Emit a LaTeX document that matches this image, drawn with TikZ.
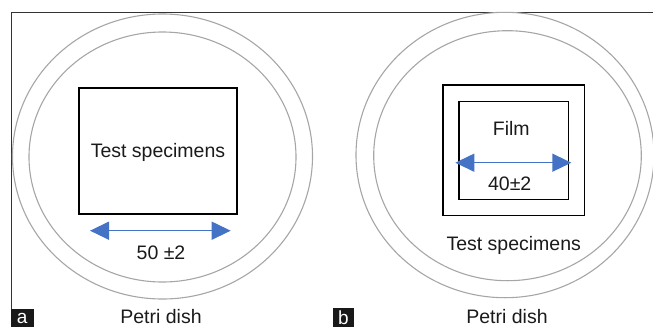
\documentclass[tikz,border=0pt]{standalone}
\usepackage{fontspec}
\setmainfont{Liberation Sans}
\usetikzlibrary{arrows.meta}
\definecolor{arrblue}{HTML}{4472C4}
\definecolor{dishgray}{HTML}{A6A6A6}
\definecolor{txtgray}{HTML}{1A1A1A}
\begin{document}
\begin{tikzpicture}[x=1pt,y=-1pt,
  lbl/.style={font=\fontsize{19.5}{22}\selectfont, text=txtgray, inner sep=0pt, anchor=base},
  dish/.style={draw=dishgray, line width=1.1pt},
  dimarrow/.style={draw=arrblue, line width=1.4pt, {Triangle[length=19pt,width=18pt]}-{Triangle[length=19pt,width=18pt]}, fill=arrblue},
  tagbox/.style={fill=black!90},
  tagtext/.style={text=white, font=\fontsize{19}{20}\selectfont, inner sep=0pt, anchor=center}
]
\useasboundingbox (0,0) rectangle (653,327);
\begin{scope}
\clip (0,0) rectangle (653,327);
% frame
\draw[draw=black!80, line width=1pt] (11,309) -- (11,12.3) -- (660,12.3);
% panel a
\draw[dish] (162.5,156.5) ellipse [x radius=150, y radius=142.5];
\draw[dish] (162.5,157) ellipse [x radius=133.5, y radius=125];
\node[draw, line width=2pt, minimum width=158pt, minimum height=126pt, inner sep=0pt] (sqa) at (157.7,150.7) {};
\node[lbl] (tsa) at (158,157.3) {Test specimens};
\coordinate (aL) at (90,230.7);
\coordinate (aR) at (230.7,230.7);
\draw[dimarrow] (aL) -- (aR);
\node[lbl] (dima) at (161,259.3) {50 ±2};
\node[lbl] (pda) at (161,323.3) {Petri dish};
\fill[tagbox] (11,308.5) rectangle (34,327);
\node[tagtext] (taga) at (22.2,318.5) {a};
% panel b
\draw[dish] (505,155) ellipse [x radius=149, y radius=142.7];
\draw[dish] (507.5,155.7) ellipse [x radius=133.8, y radius=125];
\node[draw, line width=1.3pt, minimum width=141.7pt, minimum height=130.7pt, inner sep=0pt] (sqb) at (513.8,150.3) {};
\node[draw, line width=1.3pt, minimum width=109.7pt, minimum height=98pt, inner sep=0pt] (film) at (513.8,150.3) {};
\node[lbl] (filmt) at (511.3,135.7) {Film};
\coordinate (bL) at (455.3,162.7);
\coordinate (bR) at (571.3,162.7);
\draw[dimarrow] (bL) -- (bR);
\node[lbl] (dimb) at (509.7,190.7) {40±2};
\node[lbl] (tsb) at (513.7,250) {Test specimens};
\node[lbl] (pdb) at (507,323.3) {Petri dish};
\fill[tagbox] (333,308) rectangle (354,326.5);
\node[tagtext] (tagb) at (343.5,317.3) {b};
\end{scope}
\end{tikzpicture}
\end{document}
